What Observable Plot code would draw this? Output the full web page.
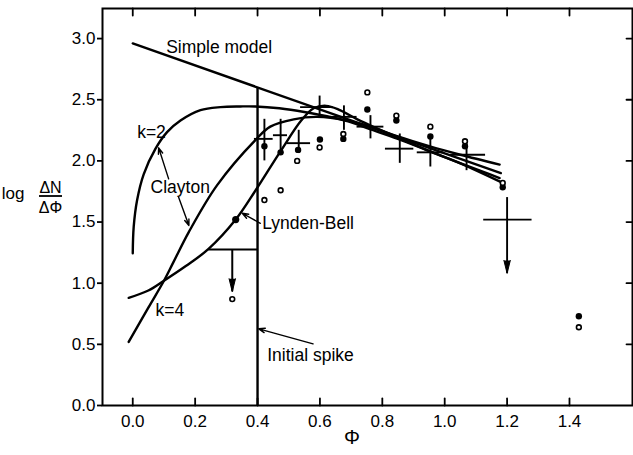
<!DOCTYPE html>
<html><head><meta charset="utf-8">
<script src="https://cdn.jsdelivr.net/npm/d3@7"></script>
<script src="https://cdn.jsdelivr.net/npm/@observablehq/plot@0.6"></script>
<style>body{margin:0;background:#fff} svg{display:block}</style>
</head><body><div id="chart"></div>
<script>
// ---- tick values ----
const xTicks = [0, 0.2, 0.4, 0.6, 0.8, 1.0, 1.2, 1.4];
const yTicks = [0, 0.5, 1.0, 1.5, 2.0, 2.5, 3.0];
const xDomain = [-0.097, 1.602];
const yDomain = [0, 3.246];

// ---- model curves ----
const simplePhi = [0.0, 1.18];
const simpleLog = [2.96, 1.90];

const k2Phi = [0.0, 0.003, 0.014, 0.035, 0.073, 0.11, 0.153, 0.217, 0.281, 0.345, 0.393, 0.47, 0.55, 0.65, 0.75, 0.85, 0.95, 1.05, 1.176];
const k2Log = [1.245, 1.46, 1.68, 1.89, 2.10, 2.235, 2.33, 2.415, 2.44, 2.445, 2.445, 2.43, 2.40, 2.35, 2.29, 2.20, 2.12, 2.05, 1.97];

const k4Phi = [-0.013, 0.05, 0.1, 0.13, 0.18, 0.27, 0.393, 0.441, 0.516, 0.591, 0.68, 0.76, 0.85, 0.95, 1.05, 1.186];
const k4Log = [0.52, 0.80, 1.02, 1.17, 1.42, 1.80, 2.17, 2.28, 2.34, 2.36, 2.33, 2.26, 2.18, 2.08, 1.98, 1.82];

const lbPhi = [-0.013, 0.05, 0.1, 0.17, 0.243, 0.33, 0.394, 0.474, 0.54, 0.58, 0.62, 0.66, 0.72, 0.85, 1.0, 1.176];
const lbLog = [0.88, 0.94, 1.02, 1.14, 1.28, 1.52, 1.76, 2.08, 2.33, 2.43, 2.45, 2.42, 2.34, 2.19, 2.03, 1.86];

const lbMarkPhi = [0.33];
const lbMarkLog = [1.52];

// ---- initial spike ----
const spikePhi = [0.4];
const spikeTop = [2.60];

// ---- error-bar crosses ----
const crossPhi   = [0.422, 0.474, 0.532, 0.599, 0.677, 0.762, 0.856, 0.954, 1.07, 1.20];
const crossLog   = [2.18, 2.21, 2.145, 2.44, 2.36, 2.28, 2.10, 2.07, 2.05, 1.52];
const crossLogLo = [2.00, 2.06, 2.06, 2.36, 2.25, 2.18, 1.98, 1.95, 1.92, 1.15];
const crossLogHi = [2.34, 2.34, 2.25, 2.53, 2.45, 2.37, 2.22, 2.21, 2.17, 1.70];
const crossPhiLo = [0.39, 0.451, 0.495, 0.538, 0.634, 0.719, 0.810, 0.912, 1.019, 1.125];
const crossPhiHi = [0.45, 0.496, 0.570, 0.643, 0.719, 0.805, 0.901, 0.997, 1.131, 1.28];
const crossArrowTip = [null, null, null, null, null, null, null, null, null, 1.08];

// ---- upper limit near phi 0.3 ----
const limitPhiLo = [0.244];
const limitPhiHi = [0.4];
const limitLog = [1.275];
const limitArrowPhi = [0.319];
const limitArrowTip = [0.93];

// ---- data points ----
const filledPhi = [0.422, 0.474, 0.530, 0.600, 0.675, 0.752, 0.845, 0.954, 1.065, 1.186, 1.43];
const filledLog = [2.12, 2.07, 2.09, 2.175, 2.18, 2.42, 2.33, 2.20, 2.12, 1.785, 0.73];
const openPhi = [0.319, 0.422, 0.474, 0.527, 0.599, 0.675, 0.752, 0.845, 0.954, 1.065, 1.186, 1.43];
const openLog = [0.87, 1.68, 1.76, 2.00, 2.11, 2.22, 2.56, 2.37, 2.28, 2.16, 1.82, 0.64];

// ---- annotations ----
const labelText = ["Simple model", "k=2", "Clayton", "k=4", "Lynden-Bell", "Initial spike"];
const labelPhi = [0.107, 0.014, 0.057, 0.073, 0.415, 0.431];
const labelLog = [2.93, 2.235, 1.785, 0.78, 1.485, 0.41];

const pointerPhi1 = [0.115, 0.147, 0.409, 0.578];
const pointerLog1 = [1.853, 1.703, 1.49, 0.504];
const pointerPhi2 = [0.083, 0.18, 0.351, 0.404];
const pointerLog2 = [2.107, 1.472, 1.572, 0.627];

// ---- build tables ----
const pts = (xs, ys) => xs.map((x, i) => ({x, y: ys[i]}));
const crosses = crossPhi.map((x, i) => ({x, y: crossLog[i], ylo: crossLogLo[i], yhi: crossLogHi[i], xlo: crossPhiLo[i], xhi: crossPhiHi[i], tip: crossArrowTip[i]}));
const crossArrows = crosses.filter(d => d.tip != null);
const limits = limitPhiLo.map((x, i) => ({xlo: x, xhi: limitPhiHi[i], y: limitLog[i], ax: limitArrowPhi[i], tip: limitArrowTip[i]}));
const labels = labelText.map((t, i) => ({t, x: labelPhi[i], y: labelLog[i]}));
const pointers = pointerPhi1.map((x, i) => ({x1: x, y1: pointerLog1[i], x2: pointerPhi2[i], y2: pointerLog2[i]}));

const tickShape = {draw(context, l) { context.moveTo(0, 0); context.lineTo(0, -l); }};
const fmt = d3.format(".1f");
const FONT = "Liberation Sans, Arial, sans-serif";

const curveOpts = {x: "x", y: "y", stroke: "black", strokeWidth: 2.4, curve: "catmull-rom"};

const chart = Plot.plot({
  width: 633,
  height: 455,
  marginTop: 8,
  marginRight: 1,
  marginBottom: 50,
  marginLeft: 102,
  x: {domain: xDomain, label: null},
  y: {domain: yDomain, label: null},
  style: {fontFamily: FONT, fontSize: "17px", background: "white", color: "black"},
  marks: [
    Plot.frame({stroke: "black", strokeWidth: 2}),
    Plot.axisX(xTicks, {tickSize: 0, tickPadding: 9, tickFormat: fmt, fontSize: 17}),
    Plot.axisY(yTicks, {tickSize: 5, tickPadding: 2, tickFormat: fmt, fontSize: 17, strokeWidth: 1.8}),
    Plot.vector(xTicks, {x: d => d, y: yDomain[0], length: 7, rotate: 0, anchor: "start", shape: tickShape, stroke: "black", strokeWidth: 1.8}),
    Plot.vector(xTicks, {x: d => d, y: yDomain[1], length: 7, rotate: 180, anchor: "start", shape: tickShape, stroke: "black", strokeWidth: 1.8}),
    Plot.vector(yTicks.filter(d => d > 0), {x: xDomain[1], y: d => d, length: 6, rotate: 270, anchor: "start", shape: tickShape, stroke: "black", strokeWidth: 1.8}),

    // initial spike
    Plot.ruleX(spikePhi, {x: d => d, y1: 0, y2: (d, i) => spikeTop[i], stroke: "black", strokeWidth: 2.4}),

    // model curves
    Plot.line(pts(simplePhi, simpleLog), {...curveOpts, curve: "linear"}),
    Plot.line(pts(k2Phi, k2Log), curveOpts),
    Plot.line(pts(k4Phi, k4Log), curveOpts),
    Plot.line(pts(lbPhi, lbLog), curveOpts),
    Plot.dot(pts(lbMarkPhi, lbMarkLog), {x: "x", y: "y", r: 3.6, fill: "black"}),

    // upper limit
    Plot.ruleY(limits, {y: "y", x1: "xlo", x2: "xhi", stroke: "black", strokeWidth: 2}),
    Plot.ruleX(limits, {x: "ax", y1: "y", y2: "tip", stroke: "black", strokeWidth: 2}),
    Plot.vector(limits, {x: "ax", y: "tip", length: 13, rotate: 180, anchor: "end", shape: "spike", r: 3.2, fill: "black", stroke: "black", strokeWidth: 1}),

    // crosses
    Plot.ruleX(crosses, {x: "x", y1: "ylo", y2: "yhi", stroke: "black", strokeWidth: 1.9}),
    Plot.ruleY(crosses, {y: "y", x1: "xlo", x2: "xhi", stroke: "black", strokeWidth: 1.9}),
    Plot.ruleX(crossArrows, {x: "x", y1: "ylo", y2: "tip", stroke: "black", strokeWidth: 1.9}),
    Plot.vector(crossArrows, {x: "x", y: "tip", length: 13, rotate: 180, anchor: "end", shape: "spike", r: 3.2, fill: "black", stroke: "black", strokeWidth: 1}),

    // data points
    Plot.dot(pts(filledPhi, filledLog), {x: "x", y: "y", r: 3.2, fill: "black"}),
    Plot.dot(pts(openPhi, openLog), {x: "x", y: "y", r: 2.4, fill: "white", stroke: "black", strokeWidth: 1.6}),

    // annotations
    Plot.text(labels, {x: "x", y: "y", text: "t", textAnchor: "start", lineAnchor: "middle", fontSize: 17.5, fill: "black"}),
    Plot.arrow(pointers, {x1: "x1", y1: "y1", x2: "x2", y2: "y2", stroke: "black", strokeWidth: 1.4, headLength: 7, headAngle: 40}),

    // x label
    Plot.text(["Φ"], {x: 0.703, frameAnchor: "bottom", dy: 32, text: d => d, fontSize: 20, lineAnchor: "middle", fill: "black"})
  ]
});
document.getElementById("chart").appendChild(chart);

// y-axis label: log ΔN/ΔΦ
const svg = d3.select(chart.tagName.toLowerCase() === "svg" ? chart : chart.querySelector("svg"));
const g = svg.append("g").attr("font-family", FONT).attr("fill", "black");
g.append("text").attr("x", 13).attr("y", 199).attr("font-size", 17).text("log");
g.append("text").attr("x", 50.5).attr("y", 193).attr("text-anchor", "middle").attr("font-size", 16).text("ΔN");
g.append("line").attr("x1", 39).attr("x2", 62).attr("y1", 196).attr("y2", 196).attr("stroke", "black").attr("stroke-width", 1.8);
g.append("text").attr("x", 50.5).attr("y", 213).attr("text-anchor", "middle").attr("font-size", 16).text("ΔΦ");
</script>
</body></html>
